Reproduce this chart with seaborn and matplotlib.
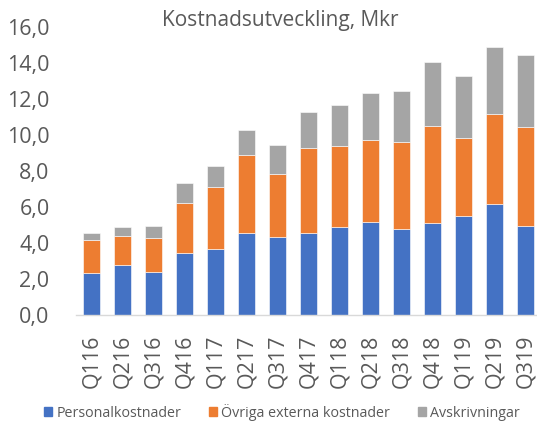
import matplotlib
matplotlib.use("Agg")
import matplotlib.pyplot as plt
import seaborn as sns
import numpy as np
from matplotlib.patches import Patch

kvartal = ["Q116", "Q216", "Q316", "Q416", "Q117", "Q217", "Q317", "Q417",
           "Q118", "Q218", "Q318", "Q418", "Q119", "Q219", "Q319"]
personal = [2.31, 2.80, 2.37, 3.43, 3.65, 4.56, 4.33, 4.56, 4.86, 5.17, 4.76, 5.09, 5.48, 6.15, 4.93]
ovriga = [1.86, 1.59, 1.91, 2.80, 3.43, 4.34, 3.51, 4.73, 4.54, 4.56, 4.84, 5.40, 4.36, 5.01, 5.53]
avskr = [0.39, 0.48, 0.65, 1.11, 1.18, 1.39, 1.58, 2.00, 2.28, 2.60, 2.82, 3.54, 3.40, 3.69, 3.96]

blue, orange, grey = "#4472C4", "#ED7D31", "#A5A5A5"
textcol = "#595959"

sns.set_style("white")
plt.rcParams['font.family'] = ['Open Sans', 'DejaVu Sans']

fig = plt.figure(figsize=(5.37, 4.25), dpi=100)
ax = fig.add_axes([76/537, 1-315/425, 461/537, (315-26.7)/425])

b1 = np.array(personal)
b2 = b1 + np.array(ovriga)
sns.barplot(x=kvartal, y=personal, color=blue, width=0.58, ax=ax,
            edgecolor="white", linewidth=0.4, saturation=1)
sns.barplot(x=kvartal, y=ovriga, bottom=b1, color=orange, width=0.58, ax=ax,
            edgecolor="white", linewidth=0.4, saturation=1)
sns.barplot(x=kvartal, y=avskr, bottom=b2, color=grey, width=0.58, ax=ax,
            edgecolor="white", linewidth=0.4, saturation=1)

ax.set_ylim(0, 16)
ax.set_xlim(-0.5, -0.5 + 461/31)
ax.set_yticks(np.arange(0, 17, 2))
ax.set_yticklabels([f"{v:.1f}".replace(".", ",") for v in np.arange(0, 17, 2)])
ax.tick_params(axis="y", labelsize=15.5, colors=textcol, length=0, pad=19)
ax.tick_params(axis="x", labelsize=15.5, colors=textcol, length=0, rotation=90, pad=14)
for s in ["top", "right", "left"]:
    ax.spines[s].set_visible(False)
ax.spines["bottom"].set_color("#D9D9D9")
ax.spines["bottom"].set_linewidth(1)
ax.set_xlabel("")
ax.set_ylabel("")

fig.text(0.522, 0.952, "Kostnadsutveckling, Mkr", ha="center", va="center",
         fontsize=15, color=textcol)

handles = [Patch(color=blue, label="Personalkostnader"),
           Patch(color=orange, label="Övriga externa kostnader"),
           Patch(color=grey, label="Avskrivningar")]
fig.legend(handles=handles, loc="center", bbox_to_anchor=(0.525, 0.03), ncol=3,
           frameon=False, fontsize=10.3, handlelength=0.6, handleheight=0.6,
           handletextpad=0.3, columnspacing=1.9, labelcolor=textcol)

fig.savefig("out.png", dpi=100)
